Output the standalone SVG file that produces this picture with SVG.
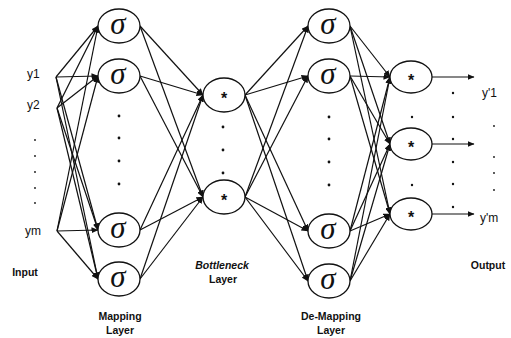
<svg xmlns="http://www.w3.org/2000/svg" width="511" height="338" viewBox="0 0 511 338">
<defs>
<marker id="ah" markerUnits="userSpaceOnUse" markerWidth="7" markerHeight="6" refX="6.5" refY="3" orient="auto">
<path d="M0,0 L7,3 L0,6 Z" fill="#111"/>
</marker>
<style>
.n{fill:#fff;stroke:#111;stroke-width:1.3}
.s{font-family:"Liberation Serif",serif;font-style:italic;font-size:31px;fill:#111;text-anchor:middle}
.st{font-family:"Liberation Sans",sans-serif;font-weight:bold;font-size:16px;fill:#111;text-anchor:middle}
.c line{stroke:#111;stroke-width:1.2;marker-end:url(#ah)}
.lb{font-family:"Liberation Sans",sans-serif;font-size:12px;fill:#111}
.lab{font-family:"Liberation Sans",sans-serif;font-weight:bold;font-size:10.5px;fill:#111;text-anchor:middle}
.d{fill:#111}
</style>
</defs>
<rect width="511" height="338" fill="#fff"/>
<g class="c" id="connectors">
<line x1="56" y1="77" x2="98" y2="26"/><line x1="56" y1="77" x2="98" y2="76"/><line x1="56" y1="77" x2="98" y2="230"/><line x1="56" y1="77" x2="98" y2="279"/>
<line x1="57" y1="108" x2="98" y2="26"/><line x1="57" y1="108" x2="98" y2="76"/><line x1="57" y1="108" x2="98" y2="230"/><line x1="57" y1="108" x2="98" y2="279"/>
<line x1="57" y1="231" x2="98" y2="26"/><line x1="57" y1="231" x2="98" y2="76"/><line x1="57" y1="231" x2="98" y2="230"/><line x1="57" y1="231" x2="98" y2="279"/>
<line x1="140" y1="26" x2="203" y2="95"/><line x1="140" y1="76" x2="203" y2="95"/><line x1="140" y1="230" x2="203" y2="95"/><line x1="140" y1="279" x2="203" y2="95"/>
<line x1="140" y1="26" x2="203" y2="197"/><line x1="140" y1="76" x2="203" y2="197"/><line x1="140" y1="230" x2="203" y2="197"/><line x1="140" y1="279" x2="203" y2="197"/>
<line x1="245" y1="95" x2="308" y2="26"/><line x1="245" y1="95" x2="308" y2="76"/><line x1="245" y1="95" x2="308" y2="231"/><line x1="245" y1="95" x2="308" y2="281"/>
<line x1="245" y1="197" x2="308" y2="26"/><line x1="245" y1="197" x2="308" y2="76"/><line x1="245" y1="197" x2="308" y2="231"/><line x1="245" y1="197" x2="308" y2="281"/>
<line x1="350" y1="26" x2="390" y2="77"/><line x1="350" y1="76" x2="390" y2="77"/><line x1="350" y1="231" x2="390" y2="77"/><line x1="350" y1="281" x2="390" y2="77"/>
<line x1="350" y1="26" x2="390" y2="144"/><line x1="350" y1="76" x2="390" y2="144"/><line x1="350" y1="231" x2="390" y2="144"/><line x1="350" y1="281" x2="390" y2="144"/>
<line x1="350" y1="26" x2="390" y2="214"/><line x1="350" y1="76" x2="390" y2="214"/><line x1="350" y1="231" x2="390" y2="214"/><line x1="350" y1="281" x2="390" y2="214"/>
<line x1="432" y1="77" x2="474" y2="77"/><line x1="432" y1="144" x2="474" y2="144"/><line x1="432" y1="214" x2="474" y2="214"/>
</g>
<g id="input">
<text class="lb" x="27" y="78">y1</text>
<text class="lb" x="27" y="109">y2</text>
<text class="lb" x="25" y="235">ym</text>
<circle class="d" cx="35" cy="140" r="0.9"/><circle class="d" cx="35" cy="156" r="0.9"/><circle class="d" cx="35" cy="172" r="0.9"/><circle class="d" cx="35" cy="188" r="0.9"/><circle class="d" cx="35" cy="203" r="0.9"/>
<text class="lab" x="25" y="276">Input</text>
</g>
<g id="mapping1"><ellipse class="n" cx="119" cy="26" rx="21" ry="17"/><text class="s" x="118" y="34">σ</text></g>
<g id="mapping2"><ellipse class="n" cx="119" cy="76" rx="21" ry="17"/><text class="s" x="118" y="84">σ</text></g>
<g id="mapping3"><ellipse class="n" cx="119" cy="230" rx="21" ry="17"/><text class="s" x="118" y="238">σ</text></g>
<g id="mapping4"><ellipse class="n" cx="119" cy="279" rx="21" ry="17"/><text class="s" x="118" y="287">σ</text></g>
<g id="mapping-dots"><circle class="d" cx="119" cy="116" r="1.4"/><circle class="d" cx="119" cy="138" r="1.4"/><circle class="d" cx="119" cy="161" r="1.4"/><circle class="d" cx="119" cy="184" r="1.4"/></g>
<g id="bottleneck1"><ellipse class="n" cx="224" cy="95" rx="21" ry="17"/><text class="st" x="224" y="104">*</text></g>
<g id="bottleneck2"><ellipse class="n" cx="224" cy="197" rx="21" ry="17"/><text class="st" x="224" y="206">*</text></g>
<g id="bottleneck-dots"><circle class="d" cx="223" cy="127" r="1.4"/><circle class="d" cx="223" cy="150" r="1.4"/><circle class="d" cx="223" cy="173" r="1.4"/></g>
<g id="demapping1"><ellipse class="n" cx="329" cy="26" rx="21" ry="17"/><text class="s" x="328" y="34">σ</text></g>
<g id="demapping2"><ellipse class="n" cx="329" cy="76" rx="21" ry="17"/><text class="s" x="328" y="84">σ</text></g>
<g id="demapping3"><ellipse class="n" cx="329" cy="231" rx="21" ry="17"/><text class="s" x="328" y="239">σ</text></g>
<g id="demapping4"><ellipse class="n" cx="329" cy="281" rx="21" ry="17"/><text class="s" x="328" y="289">σ</text></g>
<g id="demapping-dots"><circle class="d" cx="329" cy="117" r="1.4"/><circle class="d" cx="329" cy="139" r="1.4"/><circle class="d" cx="329" cy="162" r="1.4"/><circle class="d" cx="329" cy="185" r="1.4"/></g>
<g id="output1"><ellipse class="n" cx="411" cy="77" rx="21" ry="16"/><text class="st" x="411" y="86">*</text></g>
<g id="output2"><ellipse class="n" cx="411" cy="144" rx="21" ry="16"/><text class="st" x="411" y="153">*</text></g>
<g id="output3"><ellipse class="n" cx="411" cy="214" rx="21" ry="16"/><text class="st" x="411" y="223">*</text></g>
<g id="output-dots">
<circle class="d" cx="412" cy="117" r="1.2"/><circle class="d" cx="412" cy="185" r="1.2"/>
<circle class="d" cx="453" cy="93" r="1.2"/><circle class="d" cx="453" cy="117" r="1.2"/><circle class="d" cx="453" cy="139" r="1.2"/><circle class="d" cx="453" cy="162" r="1.2"/><circle class="d" cx="453" cy="184" r="1.2"/><circle class="d" cx="453" cy="207" r="1.2"/>
<circle class="d" cx="494" cy="126" r="0.9"/><circle class="d" cx="494" cy="157" r="0.9"/><circle class="d" cx="494" cy="173" r="0.9"/><circle class="d" cx="494" cy="190" r="0.9"/>
</g>
<g id="output-labels">
<text class="lb" x="482" y="97">y'1</text>
<text class="lb" x="480" y="222">y'm</text>
<text class="lab" x="488" y="269">Output</text>
</g>
<g id="layer-labels">
<text class="lab" x="120" y="320">Mapping</text><text class="lab" x="120" y="334">Layer</text>
<text class="lab" x="222" y="269" font-style="italic">Bottleneck</text><text class="lab" x="223" y="283">Layer</text>
<text class="lab" x="331" y="320">De-Mapping</text><text class="lab" x="331" y="334">Layer</text>
</g>
</svg>
